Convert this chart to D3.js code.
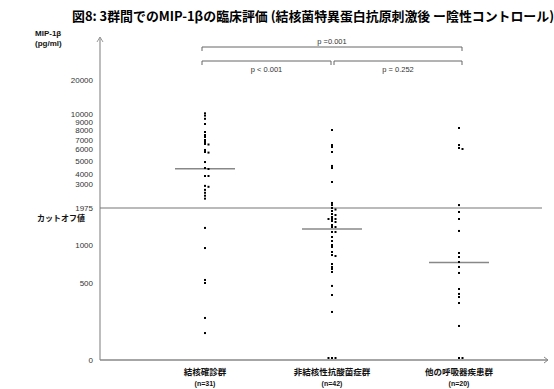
<!DOCTYPE html>
<html><head><meta charset="utf-8">
<script src="https://cdn.jsdelivr.net/npm/d3@7"></script>
<style>body{margin:0;background:#fff}svg{display:block}</style>
</head><body>
<svg id="c" width="554" height="389"></svg>
<script>
// ---- data ----
const categories = ["結核確診群", "非結核性抗酸菌症群", "他の呼吸器疾患群"];
const counts = ["(n=31)", "(n=42)", "(n=20)"];
const group1 = [10200, 9800, 9400, 8750, 7800, 7500, 7300, 7000, 6780, 6560, 6500, 5920, 5750, 5700, 4920, 4460, 4385, 3800, 3800, 2920, 2880, 2750, 2625, 2500, 2375, 1450, 960, 540, 500, 273, 175];
const group2 = [8000, 6440, 6220, 5750, 4620, 4460, 3200, 2190, 2100, 1975, 1935, 1896, 1817, 1790, 1738, 1685, 1685, 1685, 1632, 1606, 1527, 1474, 1474, 1343, 1343, 1211, 1105, 1000, 974, 908, 868, 855, 750, 711, 684, 645, 481, 422, 312, 0, 0, 0];
const group3 = [8250, 6440, 6110, 6000, 2100, 1870, 1685, 1370, 895, 842, 776, 711, 632, 461, 429, 409, 370, 221, 0, 0];
const medians = [4400, 1420, 770];
const cutoff = 1975;
const tickValues = [0, 500, 1000, 1975, 3000, 4000, 5000, 6000, 7000, 8000, 9000, 10000, 20000];
const titleText = "図8: 3群間でのMIP-1βの臨床評価 (結核菌特異蛋白抗原刺激後 ー陰性コントロール)";
const pLabels = ["p =0.001", "p < 0.001", "p = 0.252"];

// ---- layout ----
const tickPixels = [360, 283, 245, 208, 184, 174, 161, 149, 140, 130, 122, 114, 80];
const axisX = 100, axisTop = 37, axisRight = 548;
const svg = d3.select("#c");
const y = d3.scaleLinear().domain(tickValues).range(tickPixels);
const x = d3.scalePoint().domain(categories).range([205, 459]);
const groups = [group1, group2, group3];

// title
svg.append("text").attr("x", 72).attr("y", 21)
  .attr("font-family", "'Noto Sans CJK JP'").attr("font-weight", "bold")
  .attr("font-size", 12.9).attr("fill", "#000").text(titleText);

// y axis label
svg.append("text").attr("x", 35).attr("y", 36).attr("font-family", "'Liberation Sans', sans-serif")
  .attr("font-weight", "bold").attr("font-size", 8).attr("fill", "#111").text("MIP-1β");
svg.append("text").attr("x", 35).attr("y", 46).attr("font-family", "'Liberation Sans', sans-serif")
  .attr("font-weight", "bold").attr("font-size", 8).attr("fill", "#111").text("(pg/ml)");

// y axis ticks
const yAxis = d3.axisLeft(y).tickValues(tickValues).tickSize(0).tickPadding(7).tickFormat(d => String(d));
const ga = svg.append("g").attr("transform", `translate(${axisX},0)`).call(yAxis);
ga.select(".domain").remove();
ga.selectAll("text").attr("font-family", "'Liberation Sans', sans-serif").attr("font-size", 8).attr("fill", "#333");

// cutoff label
svg.append("text").attr("x", 37).attr("y", 221).attr("font-family", "'Noto Sans CJK JP'")
  .attr("font-weight", "bold").attr("font-size", 8).attr("fill", "#111").text("カットオフ値");

// axes lines
const axisColor = "#999";
svg.append("line").attr("x1", axisX).attr("x2", axisX).attr("y1", y(0)).attr("y2", axisTop)
  .attr("stroke", axisColor).attr("stroke-width", 1.3);
svg.append("path").attr("d", `M${axisX-3},${axisTop+5}L${axisX},${axisTop}L${axisX+3},${axisTop+5}`)
  .attr("fill", "none").attr("stroke", axisColor).attr("stroke-width", 1);
svg.append("line").attr("x1", axisX).attr("x2", axisRight).attr("y1", y(0)).attr("y2", y(0))
  .attr("stroke", "#888").attr("stroke-width", 1.3);
svg.append("path").attr("d", `M${axisRight-4},${y(0)-3}L${axisRight},${y(0)}L${axisRight-4},${y(0)+3}`)
  .attr("fill", "none").attr("stroke", "#888").attr("stroke-width", 1);

// cutoff line
svg.append("line").attr("x1", axisX).attr("x2", 542).attr("y1", y(cutoff)).attr("y2", y(cutoff))
  .attr("stroke", "#777").attr("stroke-width", 1.2);

// medians
categories.forEach((c, i) => {
  svg.append("line").attr("x1", x(c) - 30).attr("x2", x(c) + 30)
    .attr("y1", y(medians[i])).attr("y2", y(medians[i]))
    .attr("stroke", "#888").attr("stroke-width", 1.4);
});

// dots with simple dodge
categories.forEach((c, i) => {
  const placed = [];
  const vals = groups[i].slice().sort((a, b) => b - a);
  vals.forEach(v => {
    const py = Math.min(y(v), y(0) - 2);
    const offs = [0, 3.5, -3.5, 7, -7];
    let off = 0;
    for (const o of offs) {
      if (!placed.some(p => Math.abs(p.y - py) < 1.8 && Math.abs(p.o - o) < 2.5)) { off = o; break; }
    }
    placed.push({ y: py, o: off });
  });
  svg.append("g").selectAll("rect").data(placed).join("rect")
    .attr("x", d => x(c) + d.o - 1).attr("y", d => d.y - 1)
    .attr("width", 2).attr("height", 2).attr("fill", "#000");
});

// category labels
categories.forEach((c, i) => {
  svg.append("text").attr("x", x(c)).attr("y", 375).attr("text-anchor", "middle")
    .attr("font-family", "'Noto Sans CJK JP'").attr("font-weight", "bold").attr("font-size", 8.5)
    .attr("fill", "#111").text(c);
  svg.append("text").attr("x", x(c)).attr("y", 386).attr("text-anchor", "middle")
    .attr("font-family", "'Liberation Sans', sans-serif").attr("font-weight", "bold").attr("font-size", 7)
    .attr("fill", "#111").text(counts[i]);
});

// significance brackets
const bc = "#666";
function bracket(x1, x2, yy, label, ty) {
  svg.append("path").attr("d", `M${x1},${yy+4}V${yy}H${x2}V${yy+4}`)
    .attr("fill", "none").attr("stroke", bc).attr("stroke-width", 1);
  svg.append("text").attr("x", (x1 + x2) / 2).attr("y", ty).attr("text-anchor", "middle")
    .attr("font-family", "'Liberation Sans', sans-serif").attr("font-size", 7.5).attr("fill", "#333").text(label);
}
const [c0, c1, c2] = categories.map(c => x(c));
bracket(c0 - 3, c2 + 3, 47, pLabels[0], 44);
bracket(c0 - 3, c1 - 1, 61, pLabels[1], 72);
bracket(c1 + 2, c2 + 3, 61, pLabels[2], 72);
</script>
</body></html>
